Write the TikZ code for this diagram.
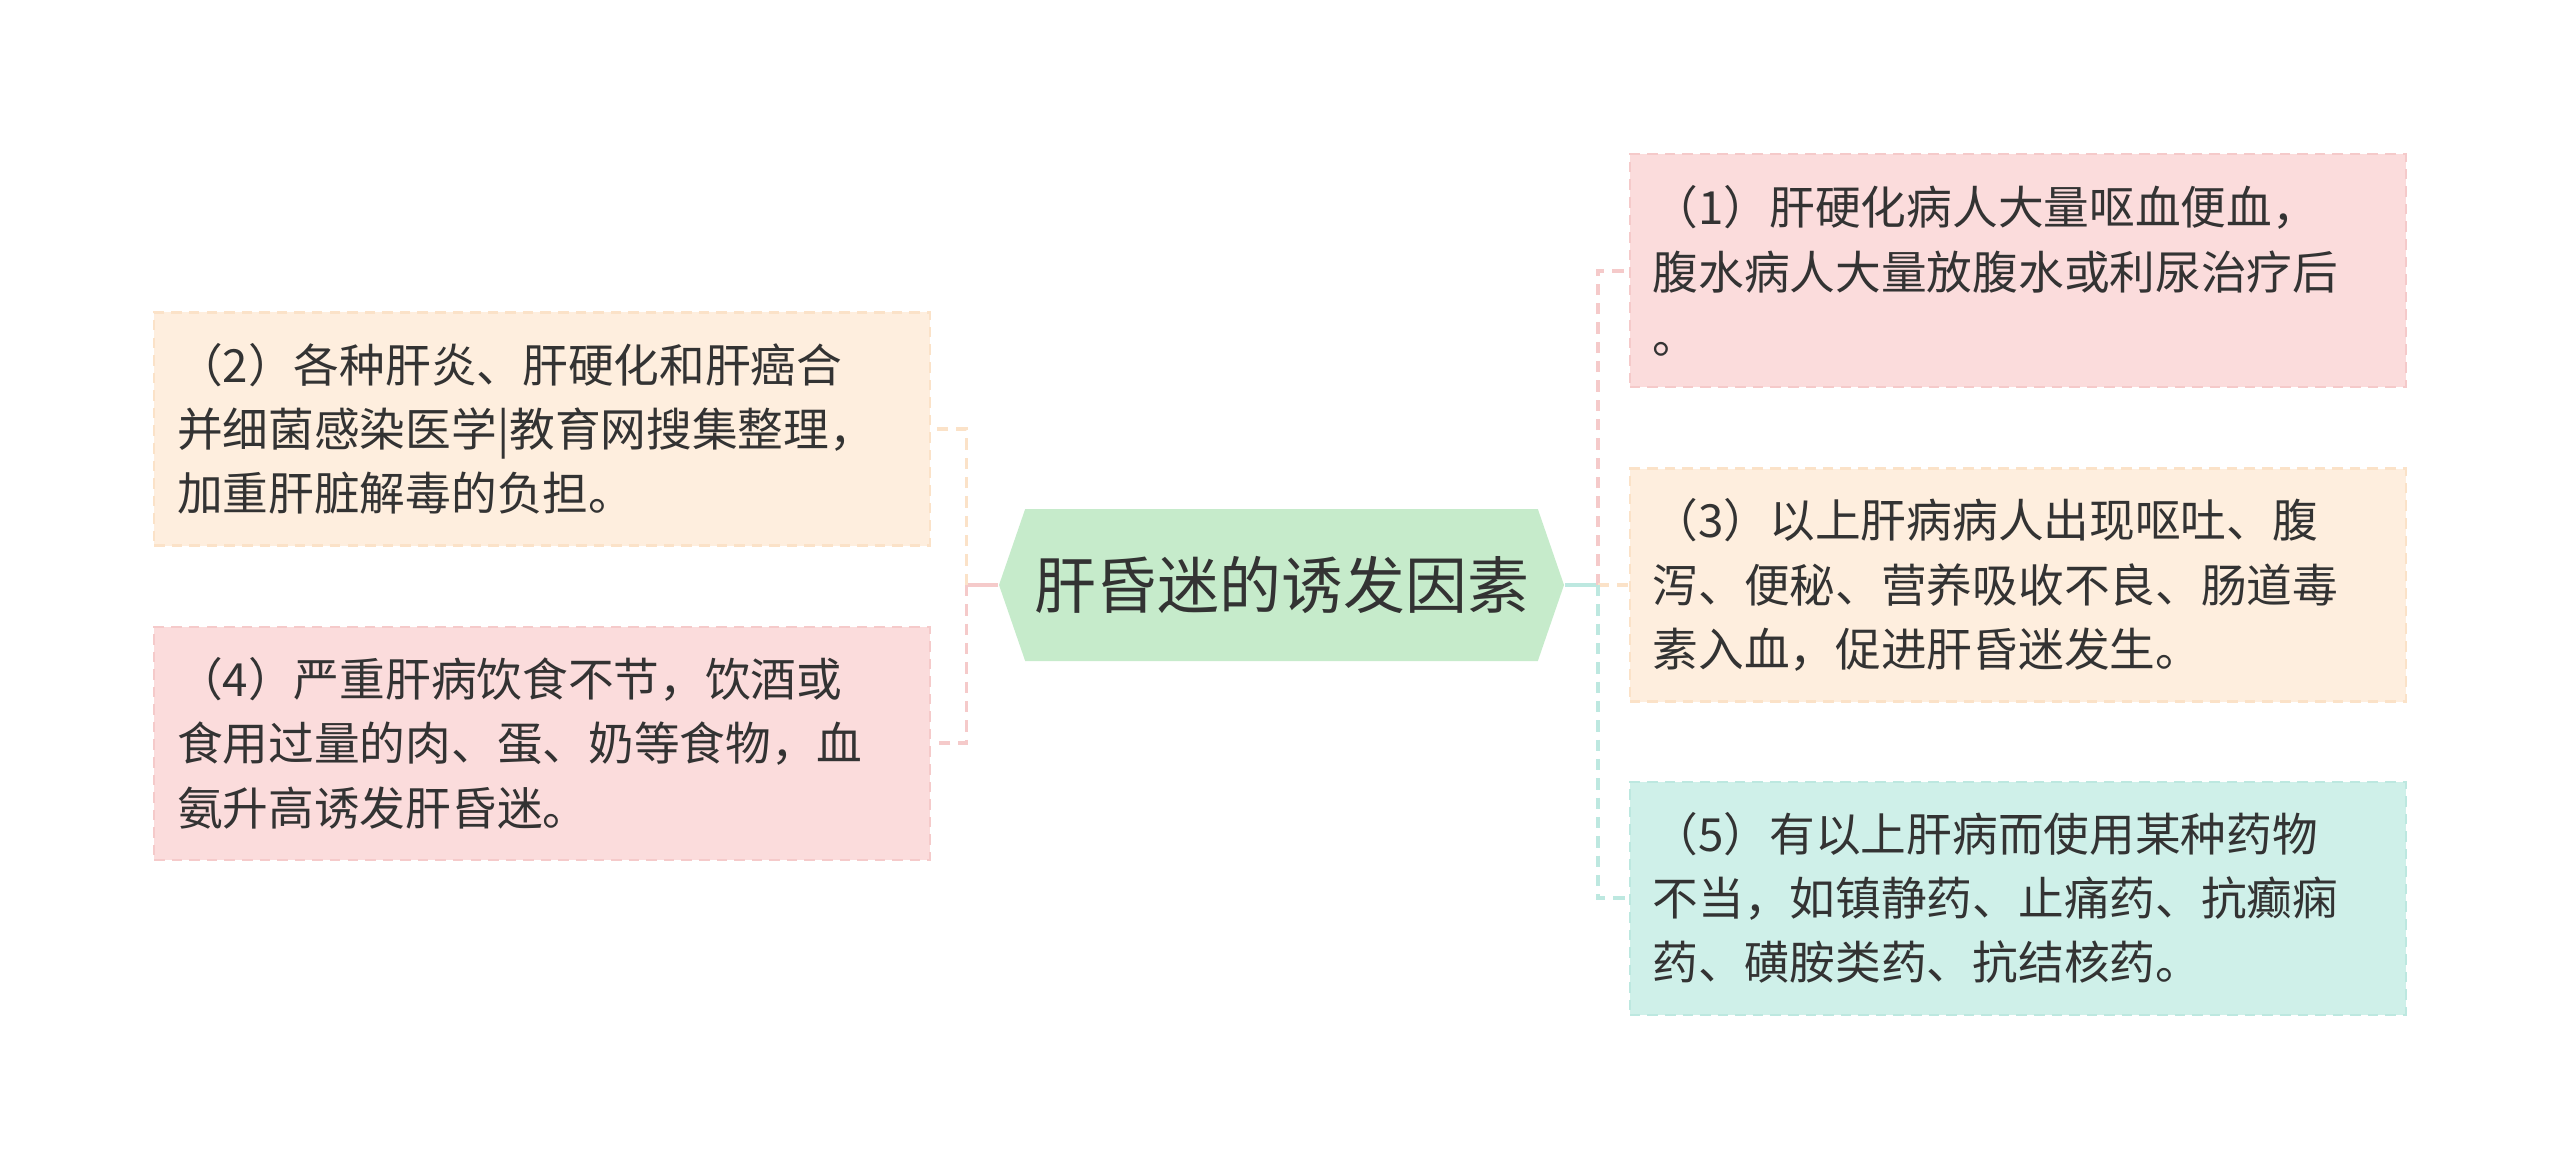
\documentclass[tikz,border=0pt]{standalone}
\usepackage{fontspec}
\setmainfont{Noto Sans CJK SC}
\usepackage{tikz}
\usetikzlibrary{positioning,shapes.symbols}

\definecolor{txtgray}{HTML}{333333}
\definecolor{hubgreen}{HTML}{C6EBCB}
\definecolor{pinkfill}{HTML}{FBDCDC}
\definecolor{pinkline}{HTML}{F5CACA}
\definecolor{peachfill}{HTML}{FEEEDE}
\definecolor{peachline}{HTML}{FBE2C8}
\definecolor{mintfill}{HTML}{CFF0E9}
\definecolor{mintline}{HTML}{BDE8E0}

\begin{document}
\begin{tikzpicture}[-,auto,node distance=0.79cm,
			hub node/.style={signal,signal to=west and east,signal pointer angle=142,
				fill=hubgreen,text=txtgray,minimum width=5.65cm,minimum height=1.52cm,
				inner sep=0pt,font=\fontsize{17.6}{20}\selectfont},
			leaf node/.style={draw,dashed,dash pattern=on 3pt off 2pt,line width=0.6pt,
				text=txtgray,text width=7.3cm,align=left,inner xsep=0.23cm,inner ysep=0pt,
				minimum height=2.33cm,font=\fontsize{13}{18.3}\selectfont},
			pink node/.style={leaf node,fill=pinkfill,draw=pinkline},
			peach node/.style={leaf node,fill=peachfill,draw=peachline},
			mint node/.style={leaf node,fill=mintfill,draw=mintline},
			link/.style={line width=1pt},
			bracket/.style={link,dash pattern=on 3.2pt off 2.3pt,to path={|- (\tikztotarget)}}]
			
			\useasboundingbox (0,0) rectangle (25.6,11.71);
			
			\node[hub node] (hub) at (12.815,5.86) {肝昏迷的诱发因素};
			
			\node[peach node] (C) [right=0.64cm of hub] {（3）以上肝病病人出现呕吐、腹\\泻、便秘、营养吸收不良、肠道毒\\素入血，促进肝昏迷发生。};
			\node[pink node] (A) [above=0.79cm of C] {（1）肝硬化病人大量呕血便血，\\腹水病人大量放腹水或利尿治疗后\\。};
			\node[mint node] (E) [below=0.78cm of C] {（5）有以上肝病而使用某种药物\\不当，如镇静药、止痛药、抗癫痫\\药、磺胺类药、抗结核药。};
			\node[peach node] (B) [left=0.67cm of hub, yshift=1.56cm] {（2）各种肝炎、肝硬化和肝癌合\\并细菌感染医学|教育网搜集整理，\\加重肝脏解毒的负担。};
			\node[pink node] (D) [below=0.79cm of B] {（4）严重肝病饮食不节，饮酒或\\食用过量的肉、蛋、奶等食物，血\\氨升高诱发肝昏迷。};
			
			\coordinate[left=0.32cm of hub.west] (lj);
			\coordinate[right=0.33cm of hub.east] (rj);
			
			\path[link]
			(hub.west) edge[pinkline] (lj)
			(hub.east) edge[mintline] (rj);
			\path[bracket]
			(lj) edge[peachline] (B)
			(lj) edge[pinkline] (D)
			(rj) edge[pinkline] (A)
			(rj) edge[peachline] (C)
			(rj) edge[mintline] (E);
		\end{tikzpicture}
\end{document}
